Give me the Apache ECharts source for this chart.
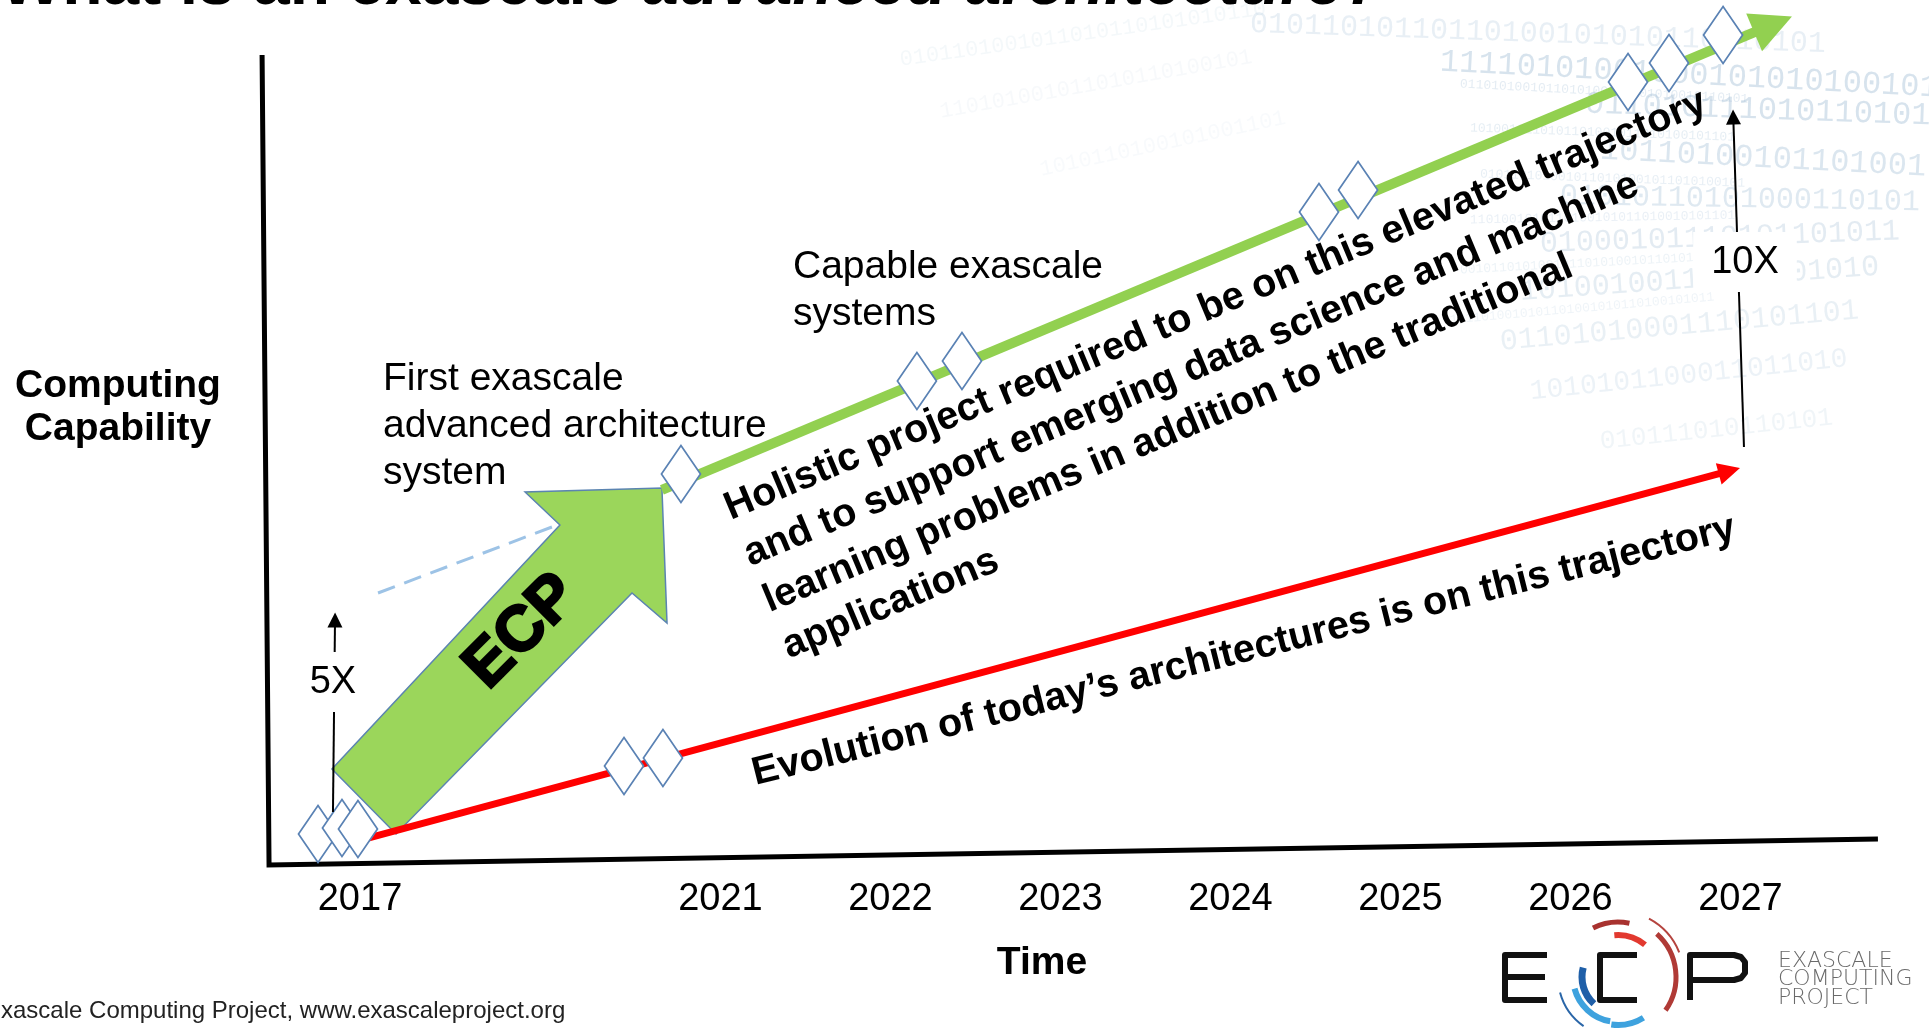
<!DOCTYPE html>
<html>
<head>
<meta charset="utf-8">
<title>What is an exascale advanced architecture?</title>
<script src="https://cdn.jsdelivr.net/npm/echarts@6/dist/echarts.min.js"></script>
<style>
  html, body { margin: 0; padding: 0; background: #fff; }
  #chart { width: 1929px; height: 1029px; }
</style>
</head>
<body>
<div id="chart"></div>
<script>
// x = position on the timeline (2017 = 0, then one slot per year after the gap), y = computing capability
const years = ['2017', '2021', '2022', '2023', '2024', '2025', '2026', '2027']
const yearPos = [0, 2.12, 3.12, 4.12, 5.12, 6.12, 7.12, 8.12]

// the two trajectories (start, arrow end)
const elevatedLine = [[1.776, 4.63], [8.312, 10.377]]
const todayLine = [[0.047, 0.333], [8.055, 4.865]]

// milestone diamonds
const startMilestones = [[-0.247, 0.383], [-0.106, 0.457], [-0.012, 0.444]]
const todayMilestones = [[1.553, 1.222], [1.782, 1.321]]
const elevatedMilestones = [[1.888, 4.827], [3.276, 5.975], [3.541, 6.222], [5.641, 8.062],
  [5.871, 8.333], [7.459, 9.667], [7.7, 9.901], [8.018, 10.247]]

// ECP block arrow outline and the dashed guide to it
const ecpArrow = [[-0.165, 1.185], [1.176, 4.198], [0.971, 4.605], [1.776, 4.654],
  [1.806, 2.988], [1.6, 3.358], [0.212, 0.383]]
const ecpGuide = [[0.106, 3.358], [1.176, 4.21]]

// capability gain markers
const gain5x = [[-0.159, 0.654], [-0.147, 3.025]]
const gain10x = [[8.141, 5.16], [8.078, 9.235]]
const gainLabels = [[-0.159, 2.259, '5X'], [8.147, 7.444, '10X']]

// hand drawn axis frame (slightly skewed like the slide)
const axisFrame = [[-0.576, 10.0], [-0.535, 0], [8.929, 0.321]]

// faint binary backdrop rows: x, y, size, rotation (deg), opacity, digits
const binaryRows = [
  [1250, 24, 30, -2, 0.22, '01011010110110100101010110110101'],
  [1440, 62, 32, -3, 0.38, '11110101001000101010100101'],
  [1585, 104, 32, -2, 0.38, '01101011101011010110'],
  [1600, 150, 32, -3, 0.34, '10110100101101001'],
  [1560, 196, 30, -1, 0.30, '01010110101000110101'],
  [1540, 244, 30, 2, 0.27, '01000101110101101011'],
  [1520, 292, 30, 4, 0.25, '10100100110101101010'],
  [1500, 342, 30, 5, 0.21, '01101010001110101101'],
  [1530, 392, 28, 6, 0.18, '1010101100011011010'],
  [1600, 442, 26, 6, 0.14, '010111010110101'],
  [900, 60, 22, 8, 0.10, '0101101001011010110101010110'],
  [940, 112, 22, 10, 0.08, '110101001011010110100101'],
  [1040, 170, 22, 12, 0.07, '1010110100101001101']
]
const binaryDots = [
  [1460, 84, 13, -3, 0.26, '0110101001011010100101101010010110101'],
  [1470, 128, 13, -2, 0.24, '1010010110101101001011010100101101'],
  [1480, 174, 13, -2, 0.22, '0101101010010110101001011010100101'],
  [1470, 220, 13, 1, 0.20, '1101001010110100101011010010101101'],
  [1460, 270, 13, 3, 0.17, '0010110101001011010100101101010010'],
  [1450, 320, 13, 5, 0.15, '1011010010101101001010110100101011']
]

const textFont = "'Liberation Sans', Arial, Helvetica, sans-serif"
const deg = d => d * Math.PI / 180

function yearLabel(v) {
  let best = 0
  yearPos.forEach((p, i) => {
    if (Math.abs(p - v) < Math.abs(yearPos[best] - v)) best = i
  })
  return years[best]
}

function plainText(x, y, text, size, extra) {
  return Object.assign({
    type: 'text',
    x: x,
    y: y,
    z: 10,
    style: Object.assign({
      text: text,
      fill: '#000',
      fontSize: size,
      fontFamily: textFont
    }, extra && extra.style)
  }, extra && extra.el)
}

function backdrop() {
  const rows = binaryRows.concat(binaryDots)
  return rows.map(r => ({
    type: 'text',
    x: r[0],
    y: r[1],
    rotation: deg(r[3]),
    z: 0,
    silent: true,
    style: {
      text: r[5],
      fill: 'rgba(150,182,208,' + r[4] + ')',
      fontSize: r[2],
      fontFamily: "'Liberation Mono', 'DejaVu Sans Mono', monospace",
      verticalAlign: 'middle'
    }
  }))
}

function logo() {
  const cx = 1618
  const cy = 977
  const arc = (r, a0, a1, color, w) => ({
    type: 'arc',
    z: 10,
    shape: { cx: cx, cy: cy, r: r, startAngle: deg(a0), endAngle: deg(a1), clockwise: true },
    style: { stroke: color, lineWidth: w, fill: null }
  })
  const stroke = pts => ({
    type: 'polyline',
    z: 10,
    shape: { points: pts, smooth: 0 },
    style: { stroke: '#111', lineWidth: 6, fill: null, lineJoin: 'round' }
  })
  return [
    stroke([[1547, 955], [1505, 955], [1505, 1000], [1547, 1000]]),
    stroke([[1505, 977], [1545, 977]]),
    stroke([[1637, 955], [1600, 955], [1600, 1000], [1637, 1000]]),
    stroke([[1690, 1000], [1690, 955], [1734, 955], [1741, 957], [1745, 962], [1745, 973],
      [1741, 978], [1734, 980], [1690, 980]]),
    arc(42, -95, -50, '#e2392f', 6),
    arc(55, -117, -78, '#a8322f', 5),
    arc(58, -48, 35, '#b03a36', 5),
    arc(66, -62, -22, '#b5443f', 2),
    arc(36, 132, 195, '#1f5fa8', 7),
    arc(60, 125, 165, '#2a66a8', 2),
    arc(45, 100, 165, '#3ea2de', 6),
    arc(48, 58, 98, '#3ea2de', 6),
    plainText(1778, 952, 'EXASCALE\nCOMPUTING\nPROJECT', 22, {
      style: { fill: '#6a6a6a', fontFamily: "'DejaVu Sans', sans-serif", fontWeight: 200,
        lineHeight: 18.5, verticalAlign: 'top' }
    })
  ]
}

const chart = echarts.init(document.getElementById('chart'))

const option = {
  animation: false,
  backgroundColor: '#fff',
  grid: { left: 190, right: 39, top: 55, bottom: 164 },
  xAxis: {
    type: 'value',
    min: -1,
    max: 9,
    axisLine: { show: false },
    axisTick: { show: false },
    splitLine: { show: false },
    axisLabel: {
      customValues: yearPos,
      formatter: v => yearLabel(v),
      fontSize: 38,
      color: '#000',
      fontFamily: textFont,
      margin: 16
    }
  },
  yAxis: {
    type: 'value',
    min: 0,
    max: 10,
    axisLine: { show: false },
    axisTick: { show: false },
    axisLabel: { show: false },
    splitLine: { show: false }
  },
  series: [
    {
      name: 'axes',
      type: 'line',
      data: axisFrame,
      symbol: 'none',
      clip: false,
      silent: true,
      z: 1,
      lineStyle: { color: '#000', width: 5, join: 'miter' }
    },
    {
      name: 'ECP',
      type: 'custom',
      clip: false,
      z: 2,
      data: [[0, 0]],
      renderItem: (params, api) => ({
        type: 'polygon',
        shape: { points: ecpArrow.map(p => api.coord(p)) },
        style: { fill: '#9bd65b', stroke: '#5b84b1', lineWidth: 1.5 }
      })
    },
    {
      name: 'ECP guide',
      type: 'lines',
      coordinateSystem: 'cartesian2d',
      clip: false,
      z: 3,
      symbol: 'none',
      lineStyle: { color: '#9dc3e6', width: 3, type: [18, 10], opacity: 1 },
      data: [{ coords: ecpGuide }]
    },
    {
      name: 'Evolution of today’s architectures',
      type: 'lines',
      coordinateSystem: 'cartesian2d',
      clip: false,
      z: 4,
      symbol: ['none', 'triangle'],
      symbolSize: [17, 22],
      lineStyle: { color: '#ff0000', width: 7, opacity: 1 },
      data: [{ coords: todayLine }]
    },
    {
      name: 'Elevated trajectory',
      type: 'lines',
      coordinateSystem: 'cartesian2d',
      clip: false,
      z: 4,
      symbol: ['none', 'triangle'],
      symbolSize: [38, 41],
      lineStyle: { color: '#92d050', width: 10, opacity: 1 },
      data: [{ coords: elevatedLine }]
    },
    {
      name: 'Milestones',
      type: 'scatter',
      clip: false,
      z: 5,
      symbol: 'diamond',
      symbolSize: [39, 57],
      itemStyle: { color: '#fff', borderColor: '#5a82b4', borderWidth: 1.8, opacity: 1 },
      data: startMilestones.concat(todayMilestones, elevatedMilestones)
    },
    {
      name: 'Gain',
      type: 'lines',
      coordinateSystem: 'cartesian2d',
      clip: false,
      z: 6,
      symbol: ['none', 'triangle'],
      symbolSize: [13, 15],
      lineStyle: { color: '#000', width: 2, opacity: 1 },
      data: [{ coords: gain5x }, { coords: gain10x }]
    },
    {
      name: 'Gain labels',
      type: 'scatter',
      clip: false,
      z: 7,
      symbolSize: 0,
      itemStyle: { opacity: 1 },
      data: gainLabels,
      label: {
        show: true,
        position: 'inside',
        formatter: p => p.value[2],
        fontSize: 38,
        fontFamily: textFont,
        color: '#000',
        opacity: 1,
        backgroundColor: '#fff',
        padding: [11, 18]
      }
    }
  ],
  graphic: {
    elements: backdrop().concat([
      plainText(0, -14, '{n|What is an exascale }{i|advanced architecture?}', 66, {
        style: {
          verticalAlign: 'middle',
          rich: {
            n: { fontSize: 66, fontWeight: 'bold', fontFamily: textFont, fill: '#000' },
            i: { fontSize: 66, fontWeight: 'bold', fontStyle: 'italic', fontFamily: textFont, fill: '#000' }
          }
        }
      }),
      plainText(118, 408, 'Computing\nCapability', 39, {
        style: { fontWeight: 'bold', align: 'center', verticalAlign: 'middle', lineHeight: 43 }
      }),
      plainText(1042, 963, 'Time', 39, {
        style: { fontWeight: 'bold', align: 'center', verticalAlign: 'middle' }
      }),
      plainText(383, 356, 'First exascale\nadvanced architecture\nsystem', 39, {
        style: { verticalAlign: 'top', lineHeight: 47 }
      }),
      plainText(793, 244, 'Capable exascale\nsystems', 39, {
        style: { verticalAlign: 'top', lineHeight: 47 }
      }),
      plainText(522, 632, 'ECP', 64, {
        style: { fontWeight: 'bold', align: 'center', verticalAlign: 'middle', stroke: '#000', lineWidth: 2.5 },
        el: { rotation: deg(45) }
      }),
      plainText(717, 487, 'Holistic project required to be on this elevated trajectory\nand to support emerging data science and machine\nlearning problems in addition to the traditional\napplications', 39.5, {
        style: { fontWeight: 'bold', verticalAlign: 'top', lineHeight: 50 },
        el: { rotation: deg(22.7) }
      }),
      plainText(748, 755, 'Evolution of today’s architectures is on this trajectory', 39.6, {
        style: { fontWeight: 'bold', verticalAlign: 'top', lineHeight: 40 },
        el: { rotation: deg(14.1) }
      }),
      plainText(1, 1011, 'xascale Computing Project, www.exascaleproject.org', 24, {
        style: { fill: '#222', verticalAlign: 'middle' }
      })
    ], logo())
  }
}

chart.setOption(option)
</script>
</body>
</html>
